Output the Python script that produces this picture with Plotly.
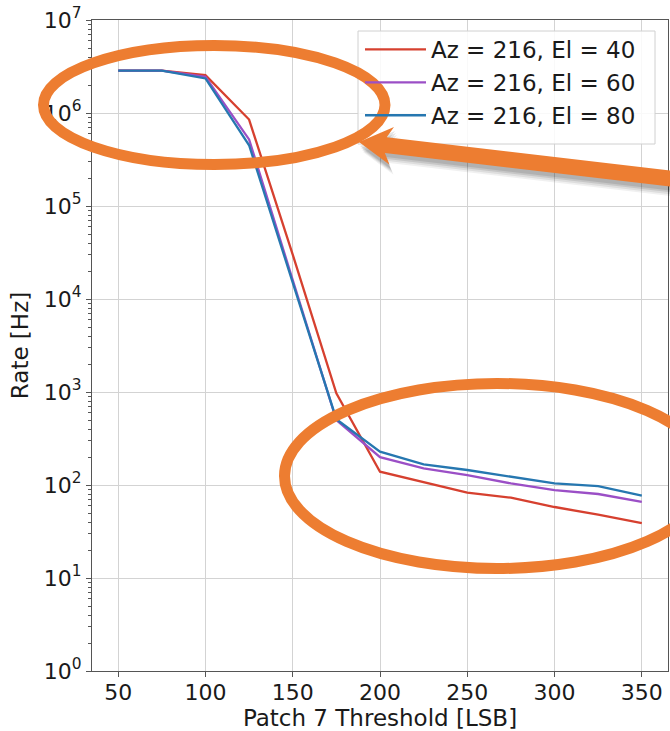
import plotly.graph_objects as go

# ---------------- data ----------------
thresholds = [50, 75, 100, 125, 150, 175, 200, 225, 250, 275, 300, 325, 350]
rate_el40 = [2.85e6, 2.85e6, 2.55e6, 8.5e5, 3.0e4, 9.7e2, 139, 108, 83, 73, 58, 48, 39]
rate_el60 = [2.85e6, 2.85e6, 2.45e6, 5.2e5, 1.6e4, 5.0e2, 199, 151, 128, 104, 88, 80, 66]
rate_el80 = [2.85e6, 2.85e6, 2.35e6, 4.5e5, 1.5e4, 5.1e2, 228, 167, 145, 123, 104, 97.5, 77]
series_names = ["Az = 216, El = 40", "Az = 216, El = 60", "Az = 216, El = 80"]
series_colors = ["#d6402f", "#9b4fc6", "#2677b0"]

x_tick_vals = [50, 100, 150, 200, 250, 300, 350]
y_tick_vals = [1, 10, 100, 1e3, 1e4, 1e5, 1e6, 1e7]
y_tick_text = ["10<sup>0</sup>", "10<sup>1</sup>", "10<sup>2</sup>", "10<sup>3</sup>",
               "10<sup>4</sup>", "10<sup>5</sup>", "10<sup>6</sup>", "10<sup>7</sup>"]
y_minor_vals = [m * 10 ** k for k in range(0, 7) for m in range(2, 10)]

# ---------------- geometry (decorations only) ----------------
W, H = 670, 731
PL, PR, PT, PB = 92, 668, 20, 671   # plot area in pixels
ML, MT, MR, MB = PL, PT, W - PR, H - PB
PW = PR - PL
PH = PB - PT


def px(x):
    return (x - PL) / PW


def py(y):
    return (PB - y) / PH


FONT = "DejaVu Sans"
ORANGE = "#ED7D31"
AXC = "#555555"
TXT = "#1a1a1a"

fig = go.Figure()
for name, vals, col in zip(series_names, [rate_el40, rate_el60, rate_el80], series_colors):
    fig.add_trace(go.Scatter(x=thresholds, y=vals, mode="lines", name=name,
                             line=dict(color=col, width=2.3)))

shapes = []
# legend box (white, semi-transparent) drawn before the orange marks
lx0, lx1, ly0, ly1 = 358, 655, 31, 144
shapes.append(dict(type="rect", xref="paper", yref="paper",
                   x0=px(lx0), x1=px(lx1), y0=py(ly1), y1=py(ly0),
                   fillcolor="rgba(255,255,255,0.85)", line=dict(color="#d0d0d0", width=1),
                   layer="above"))

# arrow polygon (pixel coordinates -> paper)
tip = (359.0, 142.0)
tail = (700.0, 182.0)
dx, dy = tip[0] - tail[0], tip[1] - tail[1]
ln = (dx * dx + dy * dy) ** 0.5
ux, uy = dx / ln, dy / ln
nx, ny = -uy, ux
L, hw, sw, notch = 33.0, 19.0, 8.0, 6.0


def pt(base, along, across):
    return (base[0] + ux * along + nx * across, base[1] + uy * along + ny * across)


poly = [
    pt(tail, 0, sw), pt(tip, -(L - notch), sw), pt(tip, -L, hw), tip,
    pt(tip, -L, -hw), pt(tip, -(L - notch), -sw), pt(tail, 0, -sw)
]


def path_of(points, ox=0.0, oy=0.0):
    return "M " + " L ".join(f"{px(p[0] + ox):.5f},{py(p[1] + oy):.5f}" for p in points) + " Z"


for (ox, oy, a) in [(4, 10, 0.06), (3, 8, 0.08), (2, 6, 0.10), (1, 4, 0.10)]:
    shapes.append(dict(type="path", xref="paper", yref="paper", path=path_of(poly, ox, oy),
                       fillcolor=f"rgba(0,0,0,{a})", line=dict(width=0), layer="above"))
shapes.append(dict(type="path", xref="paper", yref="paper", path=path_of(poly),
                   fillcolor=ORANGE, line=dict(width=0), layer="above"))

# ellipses
shapes.append(dict(type="circle", xref="paper", yref="paper",
                   x0=px(43.5), x1=px(385), y0=py(164.5), y1=py(45.5),
                   line=dict(color=ORANGE, width=11), layer="above"))
shapes.append(dict(type="circle", xref="paper", yref="paper",
                   x0=px(284.5), x1=px(709.5), y0=py(568.5), y1=py(383.5),
                   line=dict(color=ORANGE, width=11), layer="above"))

fig.update_layout(
    width=W, height=H,
    margin=dict(l=ML, r=MR, t=MT, b=MB, pad=0),
    paper_bgcolor="white", plot_bgcolor="white",
    font=dict(family=FONT, color=TXT, size=22),
    showlegend=True,
    legend=dict(x=px(lx0 + 2), y=py(ly0 - 3), xanchor="left", yanchor="top",
                bgcolor="rgba(0,0,0,0)", borderwidth=0,
                font=dict(family=FONT, size=23, color=TXT),
                itemwidth=61, tracegroupgap=0),
    shapes=shapes,
    xaxis=dict(range=[35, 365], tickmode="array", tickvals=x_tick_vals,
               ticks="outside", ticklen=5, tickcolor=AXC, tickwidth=1,
               showline=True, linecolor=AXC, linewidth=1.2, mirror=True,
               showgrid=True, gridcolor="#d3d3d3", gridwidth=1, zeroline=False,
               tickfont=dict(size=22), automargin=False, ticklabelstandoff=-4,
               ticklabeloverflow="allow",
               title=dict(text="Patch 7 Threshold [LSB]", font=dict(size=23), standoff=10)),
    yaxis=dict(type="log", range=[0, 7], tickmode="array", tickvals=y_tick_vals,
               ticktext=y_tick_text,
               ticks="outside", ticklen=5, tickcolor=AXC, tickwidth=1,
               minor=dict(tickmode="array", tickvals=y_minor_vals, ticks="outside",
                          ticklen=3, tickcolor=AXC, showgrid=False),
               showline=True, linecolor=AXC, linewidth=1.2, mirror=True,
               showgrid=True, gridcolor="#d3d3d3", gridwidth=1, zeroline=False,
               tickfont=dict(size=22), automargin=False, ticklabeloverflow="allow",
               title=dict(text="Rate [Hz]", font=dict(size=23), standoff=8)),
)

fig.write_html(
    "out.html",
    config={"displayModeBar": False},
    post_script="document.body.style.margin='0';document.body.style.overflow='hidden';",
)
